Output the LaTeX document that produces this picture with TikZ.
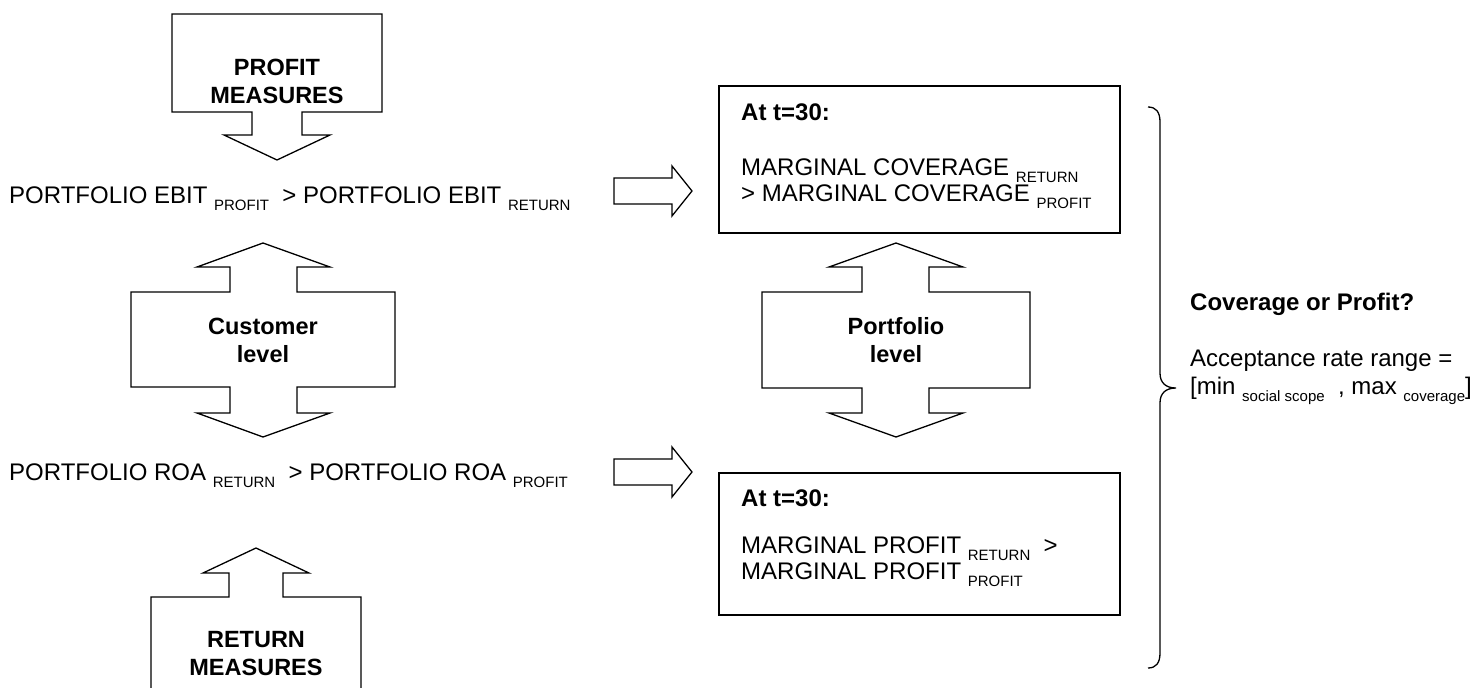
\documentclass[tikz,border=0pt]{standalone}
\usepackage{fontspec}
\setmainfont{Liberation Sans}
\newcommand{\subtxt}[1]{\raisebox{-0.3em}{\fontsize{15}{15}\selectfont #1}}
\tikzset{
  blockarrow/.style={draw=black, line width=1.3pt, fill=white, line join=miter},
  boxframe/.style={draw=black, line width=1.3pt},
  txt/.style={inner sep=0pt, font=\fontsize{24}{27}\selectfont},
  bhead/.style={inner sep=0pt, font=\fontsize{24}{27}\selectfont\bfseries},
  btxt/.style={inner sep=0pt, font=\fontsize{23.5}{28}\selectfont\bfseries, align=center},
}
\begin{document}
\begin{tikzpicture}[x=1pt,y=-1pt]
\useasboundingbox (0,0) rectangle (1484,688);
\clip (0,0) rectangle (1484,688);
\fill[white] (0,0) rectangle (1484,688);

% PROFIT MEASURES arrow (down)
\draw[blockarrow] (172,14) -- (382,14) -- (382,112) -- (302,112) -- (302,135) -- (330,135) -- (277,160) -- (224,135) -- (252,135) -- (252,112) -- (172,112) -- cycle;
\node[btxt] (pm) at (277,81) {PROFIT\\MEASURES};

% Line 1
\node[txt, anchor=base west] (l1) at (9,203) {PORTFOLIO EBIT \subtxt{PROFIT}\ \ > PORTFOLIO EBIT \subtxt{RETURN}};

% right arrow 1
\draw[blockarrow] (614,178) -- (672,178) -- (672,166) -- (692,191) -- (672,216) -- (672,204) -- (614,204) -- cycle;

% Box 1
\draw[boxframe] (719,86) rectangle (1120,233);
\node[bhead, anchor=base west] (b1h) at (741,120) {At t=30:};
\node[txt, anchor=base west] (b1a) at (741,175) {MARGINAL COVERAGE \subtxt{RETURN}};
\node[txt, anchor=base west] (b1b) at (741,201) {> MARGINAL COVERAGE \subtxt{PROFIT}};

% Customer level double arrow
\draw[blockarrow] (131,292) -- (230,292) -- (230,267) -- (197,267) -- (263,243) -- (330,267) -- (297,267) -- (297,292) -- (395,292) -- (395,387) -- (297,387) -- (297,413) -- (330,413) -- (263,437) -- (197,413) -- (230,413) -- (230,387) -- (131,387) -- cycle;
\node[btxt] (cl) at (263,340) {Customer\\level};

% Portfolio level double arrow
\draw[blockarrow] (762,292) -- (862,292) -- (862,267) -- (829,267) -- (896,243) -- (963,267) -- (929,267) -- (929,292) -- (1030,292) -- (1030,388) -- (929,388) -- (929,413) -- (963,413) -- (896,437) -- (829,413) -- (862,413) -- (862,388) -- (762,388) -- cycle;
\node[btxt] (pl) at (896,340) {Portfolio\\level};

% Line 2
\node[txt, anchor=base west] (l2) at (9,480) {PORTFOLIO ROA \subtxt{RETURN}\ \ > PORTFOLIO ROA \subtxt{PROFIT}};

% right arrow 2
\draw[blockarrow] (614,459) -- (672,459) -- (672,447) -- (692,472) -- (672,497) -- (672,485) -- (614,485) -- cycle;

% Box 2
\draw[boxframe] (719,473) rectangle (1120,615);
\node[bhead, anchor=base west] (b2h) at (741,506) {At t=30:};
\node[txt, anchor=base west] (b2a) at (741,553) {MARGINAL PROFIT \subtxt{RETURN}\ \ >};
\node[txt, anchor=base west] (b2b) at (741,579) {MARGINAL PROFIT \subtxt{PROFIT}};

% RETURN MEASURES arrow (up)
\draw[blockarrow] (151,700) -- (151,597) -- (229,597) -- (229,573) -- (203,573) -- (256,548) -- (309,573) -- (283,573) -- (283,597) -- (361,597) -- (361,700);
\node[btxt] (rm) at (256,654) {RETURN\\MEASURES};

% Brace
\draw[line width=1.3pt] (1148,107) .. controls (1156,107) and (1160,112) .. (1160,122) -- (1160,373) .. controls (1160,383) and (1166,388) .. (1176,388) .. controls (1166,388) and (1160,393) .. (1160,403) -- (1160,653) .. controls (1160,663) and (1156,668) .. (1148,668);

% Right texts
\node[bhead, anchor=base west] (q) at (1190,310) {Coverage or Profit?};
\node[txt, anchor=base west] (r1) at (1190,366) {Acceptance rate range =};
\node[txt, anchor=base west] (r2) at (1190,394) {[min \subtxt{social scope}\ \ , max \subtxt{coverage}]};
\end{tikzpicture}
\end{document}
